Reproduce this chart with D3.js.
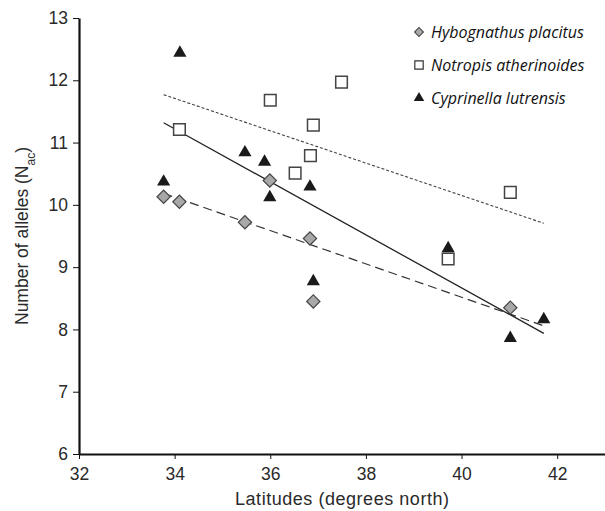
<!DOCTYPE html>
<html>
<head>
<meta charset="utf-8">
<script src="https://cdn.jsdelivr.net/npm/d3@7"></script>
<style>
  body { margin: 0; background: #fff; }
  .axis text { font-family: "Liberation Sans", Arial, sans-serif; font-size: 17.5px; fill: #2a2a2a; }
  .axis path, .axis line { stroke: #111; }
  .legend text { font-family: "Open Sans", sans-serif; font-style: italic; font-size: 16px; fill: #111; }
  .title { font-family: "Liberation Sans", Arial, sans-serif; font-size: 18px; fill: #2a2a2a; }
</style>
</head>
<body>
<div id="chart"></div>
<script>
// latitude / number of alleles per species
var species = ["Hybognathus placitus", "Notropis atherinoides", "Cyprinella lutrensis"];

var hybLat = [33.77, 34.1, 35.47, 35.99, 36.83, 36.9, 41.02];
var hybN   = [10.13, 10.05, 9.72, 10.39, 9.46, 8.45, 8.35];

var notLat = [34.1, 36.0, 36.9, 37.49, 36.84, 36.52, 39.72, 41.02];
var notN   = [11.21, 11.68, 11.28, 11.97, 10.79, 10.51, 9.13, 10.2];

var cypLat = [34.11, 35.47, 35.88, 33.77, 36.83, 35.99, 36.9, 39.72, 41.72, 41.02];
var cypN   = [12.44, 10.84, 10.69, 10.37, 10.29, 10.12, 8.77, 9.30, 8.16, 7.86];

var xTicks = [32, 34, 36, 38, 40, 42];
var yTicks = [6, 7, 8, 9, 10, 11, 12, 13];

var W = 605, H = 511;
var margin = {top: 18, right: 0, bottom: 57, left: 79};

var svg = d3.select("#chart").append("svg")
  .attr("width", W)
  .attr("height", H);

var x = d3.scaleLinear().domain([32, 43]).range([margin.left, W - margin.right]);
var y = d3.scaleLinear().domain([6, 13]).range([H - margin.bottom, margin.top]);

// axes
var xAxis = svg.append("g")
  .attr("class", "axis")
  .attr("transform", `translate(0, ${y(6)})`)
  .call(d3.axisBottom(x).tickValues(xTicks).tickFormat(d3.format("d"))
    .tickSize(5).tickSizeOuter(0).tickPadding(9));
xAxis.select(".domain").attr("stroke-width", 2.2);
xAxis.selectAll(".tick line").attr("stroke", "#666");

var yAxis = svg.append("g")
  .attr("class", "axis")
  .attr("transform", `translate(${x(32)}, 0)`)
  .call(d3.axisLeft(y).tickValues(yTicks).tickFormat(d3.format("d"))
    .tickSize(6).tickSizeOuter(0).tickPadding(5));
yAxis.select(".domain").attr("stroke-width", 2.2);
yAxis.selectAll(".tick line").attr("stroke", "#666");

svg.append("text")
  .attr("class", "title")
  .attr("x", (x(32) + x(43)) / 2)
  .attr("y", 505)
  .attr("text-anchor", "middle")
  .attr("textLength", 214)
  .text("Latitudes (degrees north)");

var yl = svg.append("text")
  .attr("class", "title")
  .style("font-size", "17.5px")
  .attr("transform", `translate(28, ${(y(6) + y(13)) / 2}) rotate(-90)`)
  .attr("text-anchor", "middle");
yl.append("tspan").text("Number of alleles (N");
yl.append("tspan").attr("baseline-shift", "sub").attr("font-size", "12px").text("ac");
yl.append("tspan").text(")");

// least squares fit, drawn over the whole latitude range
var allLat = hybLat.concat(notLat, cypLat);
var xMin = d3.min(allLat), xMax = d3.max(allLat);

function fit(xs, ys) {
  var mx = d3.mean(xs), my = d3.mean(ys);
  var sxy = d3.sum(xs, (v, i) => (v - mx) * (ys[i] - my));
  var sxx = d3.sum(xs, v => (v - mx) * (v - mx));
  var b = sxy / sxx;
  return v => my + b * (v - mx);
}

var line = d3.line().x(d => x(d[0])).y(d => y(d[1]));

function drawFit(xs, ys, dash, color, sw) {
  var f = fit(xs, ys);
  svg.append("path")
    .datum([[xMin, f(xMin)], [xMax, f(xMax)]])
    .attr("d", line)
    .attr("fill", "none")
    .attr("stroke", color)
    .attr("stroke-width", sw)
    .attr("stroke-dasharray", dash);
}

drawFit(notLat, notN, "3,2", "#444", 1.1);
drawFit(hybLat, hybN, "9,5", "#333", 1.2);
drawFit(cypLat, cypN, null, "#222", 1.3);

// symbols
var diamond = d3.symbol().type(d3.symbolSquare).size(88);
var square = d3.symbol().type(d3.symbolSquare).size(135);
var triangle = d3.symbol().type(d3.symbolTriangle).size(75);

function drawPoints(xs, ys, sym, rot, fill, stroke, sw) {
  svg.append("g").selectAll("path")
    .data(xs.map((v, i) => [v, ys[i]]))
    .join("path")
    .attr("d", sym)
    .attr("transform", d => `translate(${x(d[0])}, ${y(d[1])}) rotate(${rot})`)
    .attr("fill", fill)
    .attr("stroke", stroke)
    .attr("stroke-width", sw);
}

drawPoints(notLat, notN, square, 0, "#fff", "#444", 1.5);
drawPoints(cypLat, cypN, triangle, 0, "#1a1a1a", "none", 0);
drawPoints(hybLat, hybN, diamond, 45, "#a8a8a8", "#444", 1.2);

// legend
var legend = svg.append("g").attr("class", "legend");
var legSyms = [
  {sym: d3.symbol().type(d3.symbolSquare).size(40), rot: 45, fill: "#a8a8a8", stroke: "#444", sw: 1},
  {sym: d3.symbol().type(d3.symbolSquare).size(70), rot: 0, fill: "#fff", stroke: "#333", sw: 1.2},
  {sym: d3.symbol().type(d3.symbolTriangle).size(48), rot: 0, fill: "#1a1a1a", stroke: "none", sw: 0}
];
species.forEach((s, i) => {
  var yy = 32 + i * 33;
  var ls = legSyms[i];
  legend.append("path")
    .attr("d", ls.sym)
    .attr("transform", `translate(419, ${yy}) rotate(${ls.rot})`)
    .attr("fill", ls.fill)
    .attr("stroke", ls.stroke)
    .attr("stroke-width", ls.sw);
  legend.append("text")
    .attr("x", 431)
    .attr("y", yy + 5.5)
    .text(s);
});
</script>
</body>
</html>
